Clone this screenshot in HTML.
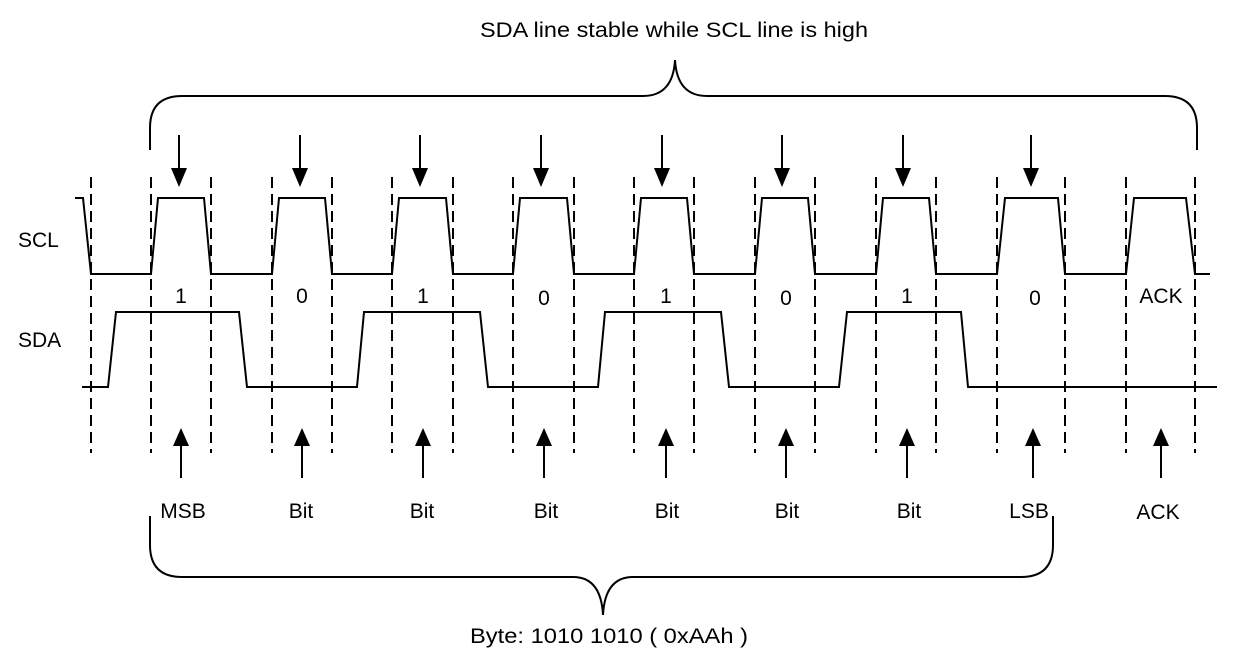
<!DOCTYPE html>
<html><head><meta charset="utf-8"><style>body{margin:0;background:#fff}svg{display:block}</style></head><body>
<svg width="1248" height="661" xmlns="http://www.w3.org/2000/svg" font-family="Liberation Sans, sans-serif" font-size="21">
<rect width="1248" height="661" fill="#fff"/>
<g stroke="#000" stroke-width="2" fill="none">
<path d="M150 150 L150 128 Q150 96 182 96 L643 96 Q673 96 675 60 Q677 96 707 96 L1165 96 Q1197 96 1197 128 L1197 150"/>
<path d="M150 516 L150 545 Q150 577 182 577 L573 577 Q601 577 603 615 Q605 577 633 577 L1021 577 Q1053 577 1053 545 L1053 516"/>
<g stroke-dasharray="11,6">
<line x1="91" y1="177" x2="91" y2="453"/>
<line x1="151" y1="177" x2="151" y2="453"/><line x1="211" y1="177" x2="211" y2="453"/>
<line x1="272" y1="177" x2="272" y2="453"/><line x1="332" y1="177" x2="332" y2="453"/>
<line x1="392" y1="177" x2="392" y2="453"/><line x1="453" y1="177" x2="453" y2="453"/>
<line x1="513" y1="177" x2="513" y2="453"/><line x1="574" y1="177" x2="574" y2="453"/>
<line x1="634" y1="177" x2="634" y2="453"/><line x1="694" y1="177" x2="694" y2="453"/>
<line x1="755" y1="177" x2="755" y2="453"/><line x1="815" y1="177" x2="815" y2="453"/>
<line x1="876" y1="177" x2="876" y2="453"/><line x1="936" y1="177" x2="936" y2="453"/>
<line x1="997" y1="177" x2="997" y2="453"/><line x1="1065" y1="177" x2="1065" y2="453"/>
<line x1="1126" y1="177" x2="1126" y2="453"/><line x1="1195" y1="177" x2="1195" y2="453"/>
</g>
<path d="M75 198 L83 198 L91 274 L151 274 L158 198 L204 198 L211 274 L272 274 L279 198 L325 198 L332 274 L392 274 L399 198 L446 198 L453 274 L513 274 L520 198 L567 198 L574 274 L634 274 L641 198 L687 198 L694 274 L755 274 L762 198 L808 198 L815 274 L876 274 L883 198 L929 198 L936 274 L997 274 L1005 198 L1058 198 L1065 274 L1126 274 L1134 198 L1186 198 L1195 274 L1210 274"/>
<path d="M82 387 L108 387 L116 312 L239 312 L247 387 L357 387 L364 312 L480 312 L488 387 L598 387 L605 312 L721 312 L729 387 L839 387 L847 312 L961 312 L968 387 L1217 387"/>
<g>
<line x1="179" y1="135" x2="179" y2="172"/><line x1="300" y1="135" x2="300" y2="172"/>
<line x1="420" y1="135" x2="420" y2="172"/><line x1="541" y1="135" x2="541" y2="172"/>
<line x1="662" y1="135" x2="662" y2="172"/><line x1="782" y1="135" x2="782" y2="172"/>
<line x1="903" y1="135" x2="903" y2="172"/><line x1="1031" y1="135" x2="1031" y2="172"/>
</g>
<g>
<line x1="181" y1="442" x2="181" y2="478"/><line x1="302" y1="442" x2="302" y2="478"/>
<line x1="423" y1="442" x2="423" y2="478"/><line x1="544" y1="442" x2="544" y2="478"/>
<line x1="666" y1="442" x2="666" y2="478"/><line x1="786" y1="442" x2="786" y2="478"/>
<line x1="907" y1="442" x2="907" y2="478"/><line x1="1033" y1="442" x2="1033" y2="478"/>
<line x1="1161" y1="442" x2="1161" y2="478"/>
</g>
</g>
<g fill="#000">
<path d="M171 168 L187 168 L179 187 Z"/><path d="M292 168 L308 168 L300 187 Z"/>
<path d="M412 168 L428 168 L420 187 Z"/><path d="M533 168 L549 168 L541 187 Z"/>
<path d="M654 168 L670 168 L662 187 Z"/><path d="M774 168 L790 168 L782 187 Z"/>
<path d="M895 168 L911 168 L903 187 Z"/><path d="M1023 168 L1039 168 L1031 187 Z"/>
<path d="M173 446 L189 446 L181 428 Z"/><path d="M294 446 L310 446 L302 428 Z"/>
<path d="M415 446 L431 446 L423 428 Z"/><path d="M536 446 L552 446 L544 428 Z"/>
<path d="M658 446 L674 446 L666 428 Z"/><path d="M778 446 L794 446 L786 428 Z"/>
<path d="M899 446 L915 446 L907 428 Z"/><path d="M1025 446 L1041 446 L1033 428 Z"/>
<path d="M1153 446 L1169 446 L1161 428 Z"/>
</g>
<g>
<text x="480" y="37" textLength="388" lengthAdjust="spacingAndGlyphs">SDA line stable while SCL line is high</text>
<text x="470" y="643" textLength="278" lengthAdjust="spacingAndGlyphs">Byte: 1010 1010 ( 0xAAh )</text>
</g>
<g text-anchor="middle">
<text x="181" y="303">1</text><text x="302" y="303">0</text><text x="423" y="303">1</text><text x="544" y="305">0</text>
<text x="666" y="303">1</text><text x="786" y="305">0</text><text x="907" y="303">1</text><text x="1035" y="305">0</text>
<text x="1161" y="303">ACK</text>
<text x="183" y="518">MSB</text><text x="301" y="518">Bit</text><text x="422" y="518">Bit</text><text x="546" y="518">Bit</text>
<text x="667" y="518">Bit</text><text x="787" y="518">Bit</text><text x="909" y="518">Bit</text><text x="1029" y="518">LSB</text>
<text x="1158" y="519">ACK</text>
</g>
<text x="18" y="247">SCL</text>
<text x="18" y="347">SDA</text>
</svg>
</body></html>
